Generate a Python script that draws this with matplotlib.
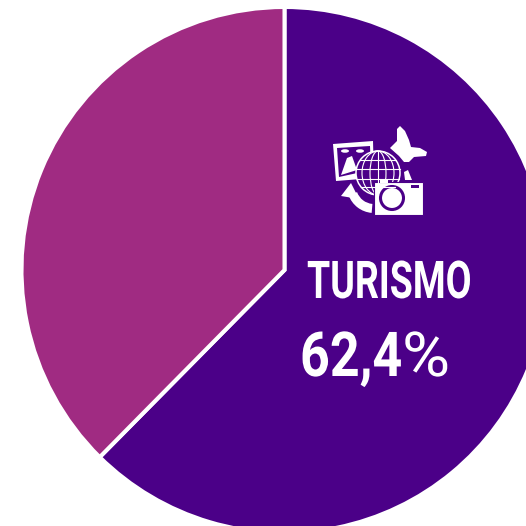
import numpy as np
import matplotlib
matplotlib.use('Agg')
import matplotlib.pyplot as plt
from matplotlib.patches import Polygon, Circle, Rectangle, Wedge, Ellipse
from matplotlib.patheffects import AbstractPathEffect
from matplotlib.text import Text
from matplotlib.transforms import Affine2D, Bbox

# datos
categorias = ['TURISMO', 'OTROS']
valores = [62.4, 37.6]
colores = ['#4B0088', '#A02B82']
etiqueta = 'TURISMO'
porcentaje = '62,4%'

BLANCO = 'white'
FUENTE = ['Roboto', 'DejaVu Sans']


# no hay fuente condensada: se estrecha el texto en x
class Estrecha(AbstractPathEffect):
    def __init__(self, x0, sx):
        self.x0 = x0
        self.sx = sx

    def draw_path(self, renderer, gc, tpath, affine, rgbFace=None):
        t = affine + Affine2D().translate(-self.x0, 0).scale(self.sx, 1).translate(self.x0, 0)
        renderer.draw_path(gc, tpath, t, rgbFace)


class TextoEstrecho(Text):
    def __init__(self, x, y, s, sx, **kw):
        super().__init__(x, y, s, path_effects=[Estrecha(x, sx)], **kw)
        self.x0 = x
        self.sx = sx

    def get_window_extent(self, renderer=None, dpi=None):
        b = super().get_window_extent(renderer, dpi)
        return Bbox([[self.x0 + (b.x0 - self.x0) * self.sx, b.y0],
                     [self.x0 + (b.x1 - self.x0) * self.sx, b.y1]])


fig = plt.figure(figsize=(5.26, 5.26), dpi=100)
ax = fig.add_axes([0, 0, 1, 1])
ax.pie(valores, colors=colores, startangle=90, counterclock=False,
       center=(284.5, 256), radius=263,
       wedgeprops={'edgecolor': BLANCO, 'linewidth': 2.9})
ax.set_xlim(0, 526)
ax.set_ylim(0, 526)
ax.set_aspect('equal')
ax.axis('off')

# capa del icono y textos, en pixeles
ic = fig.add_axes([0, 0, 1, 1])
ic.set_xlim(0, 526)
ic.set_ylim(526, 0)
ic.axis('off')
ic.patch.set_alpha(0)

ic.add_artist(TextoEstrecho(307, 298, etiqueta, 0.72, color=BLANCO, fontsize=37.5, fontweight='bold',
                            family=FUENTE, ha='left', va='baseline'))
ic.add_artist(TextoEstrecho(300, 376, porcentaje[:-1], 0.84, color=BLANCO, fontsize=44.6, fontweight='bold',
                            family=FUENTE, ha='left', va='baseline'))
ic.add_artist(TextoEstrecho(402, 376, porcentaje[-1], 1.06, color=BLANCO, fontsize=44.6, fontweight='normal',
                            family=FUENTE, ha='left', va='baseline'))

# marco de foto
ic.add_patch(Polygon([(333, 144), (373, 141), (374, 178), (336, 181)], fc=BLANCO, ec='none'))
ic.add_patch(Polygon([(337, 148), (370, 146), (371, 170), (339, 177)], fc=colores[0], ec='none'))
ic.add_patch(Polygon([(341, 175), (347, 158), (352, 156), (357, 170)], fc=BLANCO, ec='none'))
ic.add_patch(Ellipse((345, 151), 8, 3.5, fc=BLANCO, ec='none'))
ic.add_patch(Ellipse((360, 151), 8, 3.5, fc=BLANCO, ec='none'))

# globo
ic.add_patch(Circle((378, 173), 22, fc=colores[0], ec=BLANCO, lw=1.1))
for dx in (8, 16):
    ic.add_patch(Ellipse((378, 173), dx * 2, 44, fc='none', ec=BLANCO, lw=0.8))
ic.plot([378, 378], [151, 195], color=BLANCO, lw=0.8)
for dy in (-13, -4, 6, 14):
    hw = np.sqrt(22 ** 2 - dy ** 2)
    ic.plot([378 - hw, 378 + hw], [173 + dy, 173 + dy], color=BLANCO, lw=0.8)

# flecha
ic.add_patch(Wedge((374, 186), 27, 95, 160, width=9, fc=BLANCO, ec='none'))
ic.add_patch(Polygon([(341, 196), (351, 183), (359, 199)], fc=BLANCO, ec='none'))

# mariposa
ic.add_patch(Polygon([(390, 148), (397, 141), (397, 129), (400, 126), (405, 131), (409, 140),
                      (411, 147), (420, 148), (427, 152), (426, 156), (414, 157), (409, 162),
                      (404, 162), (399, 156)],
                     fc=BLANCO, ec='none'))
ic.add_patch(Polygon([(404, 172), (408, 170), (412, 180), (405, 180)], fc=BLANCO, ec='none'))

# camara
ic.add_patch(Rectangle((374, 182), 49, 33, fc=BLANCO, ec=colores[0], lw=0.8))
ic.add_patch(Rectangle((380, 179), 8, 4, fc=BLANCO, ec='none'))
ic.add_patch(Circle((392, 198), 11.5, fc=BLANCO, ec=colores[0], lw=2.2))
ic.add_patch(Rectangle((411, 185), 8, 3, fc=colores[0], ec='none'))

fig.savefig('out.png', dpi=100)
